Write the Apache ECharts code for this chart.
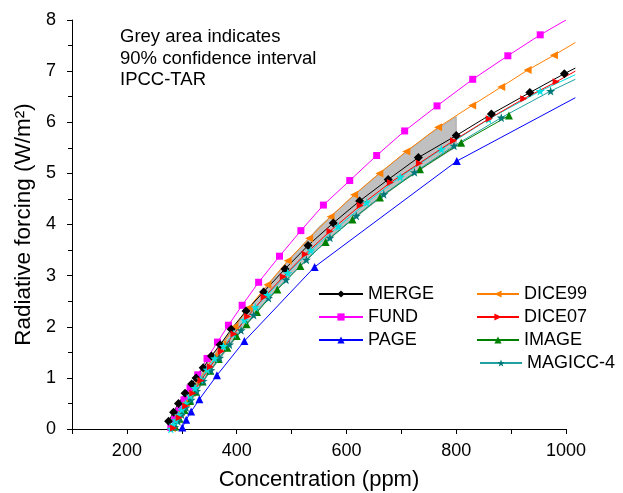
<!DOCTYPE html>
<html><head><meta charset="utf-8">
<script src="https://cdn.jsdelivr.net/npm/echarts@6/dist/echarts.min.js"></script>
<style>html,body{margin:0;padding:0;background:#fff}#c{width:623px;height:493px}</style>
</head><body><div id="c"></div>
<script>
const xTickLabels = [200, 400, 600, 800, 1000];
const yTickLabels = [0, 1, 2, 3, 4, 5, 6, 7, 8];

// MERGE
const mergeX = [276,285,294,306,318,326,339,354,370,390,417,449,488,530,576,624,676,731,800,864,934,997,1017];
const mergeY = [0.15,0.33,0.50,0.70,0.88,1.00,1.20,1.43,1.65,1.95,2.31,2.68,3.13,3.59,4.03,4.46,4.88,5.31,5.74,6.16,6.58,6.95,7.06];
// FUND
const fundX = [280,287,295,304,315,329,346,365,385,410,440,478,517,558,606,655,706,765,830,894,953,1000];
const fundY = [0.03,0.19,0.36,0.57,0.80,1.06,1.38,1.70,2.03,2.42,2.87,3.38,3.88,4.38,4.86,5.35,5.83,6.32,6.84,7.30,7.71,8.00];
// PAGE
const pageX = [301,308,317,332,364,414,542,801,1017];
const pageY = [0.03,0.18,0.34,0.58,1.05,1.72,3.17,5.24,6.48];
// DICE99
const dice99X = [282,290,298,308,318,330,343,358,374,396,422,456,493,532,571,614,660,709,767,829,882,930,978,1017];
const dice99Y = [0.02,0.17,0.33,0.52,0.71,0.93,1.15,1.41,1.66,2.00,2.37,2.82,3.29,3.73,4.15,4.58,5.00,5.43,5.90,6.33,6.69,7.02,7.31,7.56];
// DICE07
const dice07X = [285,295,307,320,335,352,372,395,420,450,485,525,570,625,680,733,795,860,923,982,1017];
const dice07Y = [0.02,0.22,0.45,0.70,0.95,1.22,1.52,1.86,2.20,2.58,2.98,3.42,3.87,4.37,4.82,5.20,5.64,6.07,6.46,6.79,7.00];
// IMAGE
const imageX = [288,296,305,315,326,338,352,367,383,400,418,437,474,516,562,611,661,734,809,896];
const imageY = [0.05,0.20,0.37,0.55,0.73,0.93,1.14,1.37,1.59,1.82,2.05,2.29,2.73,3.19,3.66,4.10,4.53,5.08,5.60,6.13];
// MAGICC-4
const magiccX = [287,293,300,308,317,327,339,353,369,387,408,431,458,490,527,570,618,668,724,796,882,972,1017];
const magiccY = [0.04,0.15,0.28,0.42,0.57,0.74,0.94,1.15,1.39,1.65,1.93,2.23,2.56,2.92,3.31,3.74,4.17,4.59,5.02,5.54,6.09,6.61,6.84];
// cyan stars (unlabelled)
const cyanX = [280,284,289,294,300,307,315,324,334,346,360,376,394,414,434,456,493,535,585,637,698,773,859,953,1017];
const cyanY = [0.00,0.08,0.17,0.27,0.38,0.50,0.65,0.80,0.97,1.16,1.38,1.62,1.86,2.13,2.38,2.62,3.05,3.49,3.96,4.43,4.93,5.47,6.06,6.61,6.93];

// IPCC-TAR 90% confidence interval
const confX =     [278, 300, 350, 400, 450, 500, 550, 600, 650, 700, 750, 800];
const confUpper = [0.00,0.42,1.38,2.05,2.73,3.36,3.95,4.44,4.91,5.34,5.76,6.11];
const confLower = [0.00,0.25,1.10,1.80,2.45,3.02,3.54,4.00,4.42,4.82,5.18,5.52];

const FONT = '"Liberation Sans", Arial, Helvetica, sans-serif';
const STAR = 'path://M0,-10 L2.35,-3.24 L9.51,-3.09 L3.8,1.24 L5.88,8.09 L0,4 L-5.88,8.09 L-3.8,1.24 L-9.51,-3.09 L-2.35,-3.24 Z';

function mk(name, xs, ys, color, symbol, size, rotate, tail, lineColor) {
  const data = xs.map((x, i) => {
    const item = { value: [x, ys[i]] };
    if (tail && i === xs.length - 1) item.symbol = 'none';
    return item;
  });
  return {
    type: 'line', name, data, symbol, symbolSize: size, symbolRotate: rotate,
    xAxisIndex: 1, yAxisIndex: 1,
    showAllSymbol: true, clip: true, smooth: false,
    lineStyle: { color: lineColor || color, width: 1 },
    itemStyle: { color },
    z: 3, animation: false
  };
}

const chart = echarts.init(document.getElementById('c'), null, { renderer: 'canvas' });
const legendText = { fontSize: 18, fontFamily: FONT, color: '#000', lineHeight: 18 };
const legendBase = { orient: 'vertical', padding: 0, itemHeight: 9, itemGap: 5, selectedMode: false, textStyle: legendText };
chart.setOption({
  backgroundColor: '#fff',
  animation: false,
  title: {
    text: 'Grey area indicates\n90% confidence interval\nIPCC-TAR',
    left: 120, top: 26, padding: 0,
    textStyle: { fontSize: 18.5, fontWeight: 'normal', fontFamily: FONT, color: '#000', lineHeight: 21.7 }
  },
  grid: [
    { left: 72, right: 57, top: 20, bottom: 64, containLabel: false, outerBoundsMode: 'none' },
    // same scale as grid 0, extended to the right so curves run a little past 1000 ppm
    { left: 72, right: 46, top: 20, bottom: 64, containLabel: false, outerBoundsMode: 'none' }
  ],
  legend: [
    Object.assign({ data: ['MERGE', 'FUND', 'PAGE'], left: 318, top: 285, itemWidth: 44 }, legendBase),
    Object.assign({ data: ['DICE99', 'DICE07', 'IMAGE'], left: 476, top: 285, itemWidth: 42 }, legendBase),
    Object.assign({ data: ['MAGICC-4'], left: 479, top: 354, itemWidth: 42 }, legendBase)
  ],
  xAxis: [{
    type: 'value', min: 100, max: 1000, interval: 100, gridIndex: 0,
    name: 'Concentration (ppm)', nameLocation: 'middle', nameGap: 40,
    nameTextStyle: { fontSize: 22, fontFamily: FONT, color: '#000' },
    axisLine: { show: true, lineStyle: { color: '#000', width: 1 } },
    axisTick: { show: true, inside: false, length: 5, lineStyle: { color: '#000' } },
    axisLabel: { fontSize: 18, fontFamily: FONT, color: '#000', margin: 13,
      formatter: v => xTickLabels.includes(v) ? String(v) : '' },
    splitLine: { show: false }
  }, {
    type: 'value', min: 100, max: 1020, gridIndex: 1, show: false
  }],
  yAxis: [{
    type: 'value', min: 0, max: 8, interval: 1, gridIndex: 0,
    name: 'Radiative forcing (W/m²)', nameLocation: 'middle', nameGap: 34, nameRotate: 90,
    nameTextStyle: { fontSize: 22.5, fontFamily: FONT, color: '#000' },
    axisLine: { show: true, lineStyle: { color: '#000', width: 1 } },
    axisTick: { show: true, inside: false, length: 5, lineStyle: { color: '#000' } },
    minorTick: { show: true, splitNumber: 2, length: 4, lineStyle: { color: '#000' } },
    axisLabel: { fontSize: 18, fontFamily: FONT, color: '#000', margin: 16,
      formatter: v => yTickLabels.includes(v) ? String(v) : '' },
    splitLine: { show: false }
  }, {
    type: 'value', min: 0, max: 8, gridIndex: 1, show: false
  }],
  series: [
    {
      type: 'custom', name: 'conf', silent: true, z: 1,
      xAxisIndex: 0, yAxisIndex: 0,
      data: confX.map((x, i) => [x, confUpper[i], confLower[i]]),
      encode: { x: 0, y: [1, 2] },
      renderItem: (params, api) => {
        if (params.dataIndex !== 0) return null;
        const pts = [];
        for (let i = 0; i < confX.length; i++) pts.push(api.coord([confX[i], confUpper[i]]));
        for (let i = confX.length - 1; i >= 0; i--) pts.push(api.coord([confX[i], confLower[i]]));
        return { type: 'polygon', shape: { points: pts }, style: { fill: '#c0c0c0', stroke: '#9a9a9a', lineWidth: 0.8 } };
      }
    },
    mk('PAGE', pageX, pageY, '#0000ff', 'triangle', 8, 0, true),
    mk('FUND', fundX, fundY, '#ff00ff', 'rect', 7, 0, true),
    mk('DICE99', dice99X, dice99Y, '#ff8000', 'triangle', 8, 90, true),
    mk('MERGE', mergeX, mergeY, '#000000', 'diamond', 9, 0, true),
    mk('IMAGE', imageX, imageY, '#008000', 'triangle', 8, 0, false),
    mk('MAGICC-4', magiccX, magiccY, '#007878', STAR, 9, 0, true, '#20a0a0'),
    mk('cyan', cyanX, cyanY, '#00e0e0', STAR, 9, 0, true),
    mk('DICE07', dice07X, dice07Y, '#ff0000', 'triangle', 7, -90, true)
  ]
});
</script>
</body></html>
